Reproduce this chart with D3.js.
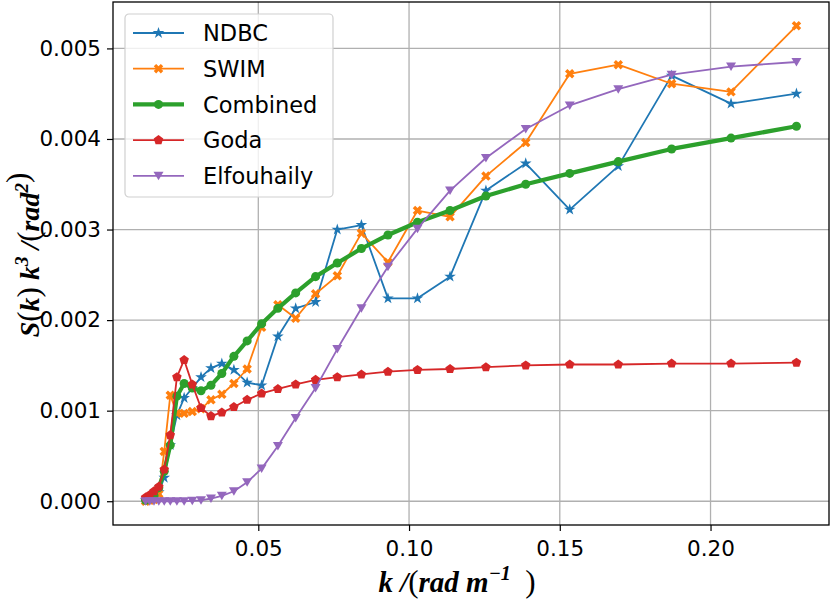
<!DOCTYPE html>
<html>
<head>
<meta charset="utf-8">
<script src="https://cdn.jsdelivr.net/npm/d3@7"></script>
<style>
  body { margin: 0; background: #fff; }
  svg { display: block; }
</style>
</head>
<body>
<svg id="chart" width="832" height="605"></svg>
<script>
// --- DATA ---
const kValues = [0.0126, 0.0140, 0.0154, 0.0170, 0.0188, 0.0208, 0.0230, 0.0254, 0.0281, 0.0310,
  0.0343, 0.0379, 0.0419, 0.0463, 0.0511, 0.0565, 0.0624, 0.0690, 0.0762, 0.0842,
  0.0930, 0.1028, 0.1136, 0.1255, 0.1387, 0.1533, 0.1694, 0.1871, 0.2068, 0.2285];

const ndbc = [0.00001, 0.00002, 0.00004, 0.00010, 0.00026, 0.00062, 0.00095, 0.00114, 0.00125, 0.00137,
  0.00147, 0.00152, 0.00145, 0.00131, 0.00128, 0.00182, 0.00213, 0.00220, 0.00300, 0.00305,
  0.00224, 0.00224, 0.00248, 0.00343, 0.00373, 0.00322, 0.00370, 0.00470, 0.00439, 0.00450];

const swim = [0.00000, 0.00001, 0.00002, 0.00008, 0.00055, 0.00117, 0.00097, 0.00097, 0.00099, 0.00102,
  0.00112, 0.00118, 0.00130, 0.00146, 0.00192, 0.00217, 0.00202, 0.00229, 0.00249, 0.00296,
  0.00264, 0.00321, 0.00314, 0.00359, 0.00396, 0.00472, 0.00482, 0.00461, 0.00452, 0.00525];

const combined = [0.00001, 0.00003, 0.00006, 0.00015, 0.00033, 0.00062, 0.00116, 0.00130, 0.00125, 0.00122,
  0.00128, 0.00141, 0.00160, 0.00177, 0.00196, 0.00213, 0.00230, 0.00248, 0.00263, 0.00279,
  0.00294, 0.00308, 0.00321, 0.00337, 0.00350, 0.00362, 0.00375, 0.00389, 0.00401, 0.00414];

const goda = [0.00004, 0.00007, 0.00011, 0.00016, 0.00035, 0.00073, 0.00137, 0.00156, 0.00129, 0.00103,
  0.00094, 0.00098, 0.00104, 0.00112, 0.00119, 0.00124, 0.00129, 0.00134, 0.00137, 0.00140,
  0.00143, 0.00145, 0.00146, 0.00148, 0.00150, 0.00151, 0.00151, 0.00152, 0.00152, 0.00153];

const elfouhaily = [0.00000, 0.00000, 0.00000, 0.00000, 0.00000, 0.00000, 0.00000, 0.00000, 0.000005, 0.00001,
  0.00003, 0.00006, 0.00011, 0.00021, 0.00036, 0.00061, 0.00092, 0.00125, 0.00168, 0.00213,
  0.00259, 0.00301, 0.00343, 0.00379, 0.00411, 0.00437, 0.00455, 0.00471, 0.00480, 0.00485];

const seriesNames = ["NDBC", "SWIM", "Combined", "Goda", "Elfouhaily"];
const xTicks = [0.05, 0.10, 0.15, 0.20];
const yTicks = [0.000, 0.001, 0.002, 0.003, 0.004, 0.005];

// --- MARKER SHAPES ---
function polyPath(pts) {
  return "M" + pts.map(p => p[0].toFixed(2) + "," + p[1].toFixed(2)).join("L") + "Z";
}
function xMarker(r) {
  const w = r * 0.34;
  const plus = [[-w,-r],[w,-r],[w,-w],[r,-w],[r,w],[w,w],[w,r],[-w,r],[-w,w],[-r,w],[-r,-w],[-w,-w]];
  const c = Math.SQRT1_2;
  return polyPath(plus.map(([x, y]) => [(x - y) * c, (x + y) * c]));
}
function pentagon(r) {
  const pts = d3.range(5).map(i => {
    const a = -Math.PI / 2 + i * 2 * Math.PI / 5;
    return [r * Math.cos(a), r * Math.sin(a)];
  });
  return polyPath(pts);
}
function triDown(r) {
  return polyPath([[-r, -r * 0.8], [r, -r * 0.8], [0, r * 0.9]]);
}

const series = [
  { name: seriesNames[0], values: ndbc, color: "#1f77b4", width: 1.8, marker: d3.symbol(d3.symbolStar, 42)() },
  { name: seriesNames[1], values: swim, color: "#ff7f0e", width: 1.8, marker: xMarker(5) },
  { name: seriesNames[2], values: combined, color: "#2ca02c", width: 4.2, marker: d3.symbol(d3.symbolCircle, 64)() },
  { name: seriesNames[3], values: goda, color: "#d62728", width: 1.8, marker: pentagon(5) },
  { name: seriesNames[4], values: elfouhaily, color: "#9467bd", width: 1.8, marker: triDown(5) }
];

// --- LAYOUT ---
const svg = d3.select("#chart");
const plot = { left: 113, right: 829, top: 2, bottom: 525 };

const kMin = d3.min(kValues), kMax = d3.max(kValues);
const kPad = (kMax - kMin) * 0.05;
const x = d3.scaleLinear().domain([kMin - kPad, kMax + kPad]).range([plot.left, plot.right]);

const sMin = 0, sMax = d3.max(series, s => d3.max(s.values));
const sPad = (sMax - sMin) * 0.05;
const y = d3.scaleLinear().domain([sMin - sPad, sMax + sPad]).range([plot.bottom, plot.top]);

// --- GRID ---
const grid = svg.append("g").attr("stroke", "#b0b0b0").attr("stroke-width", 1.3);
grid.selectAll("line.gx").data(xTicks).enter().append("line")
  .attr("x1", d => x(d)).attr("x2", d => x(d))
  .attr("y1", plot.top).attr("y2", plot.bottom);
grid.selectAll("line.gy").data(yTicks).enter().append("line")
  .attr("x1", plot.left).attr("x2", plot.right)
  .attr("y1", d => y(d)).attr("y2", d => y(d));

// --- SERIES ---
svg.append("clipPath").attr("id", "clip").append("rect")
  .attr("x", plot.left).attr("y", plot.top)
  .attr("width", plot.right - plot.left).attr("height", plot.bottom - plot.top);

const line = d3.line().x(d => x(d[0])).y(d => y(d[1]));

const marks = svg.append("g").attr("clip-path", "url(#clip)");
series.forEach(s => {
  const pts = kValues.map((k, i) => [k, s.values[i]]);
  const g = marks.append("g");
  g.append("path")
    .datum(pts)
    .attr("d", line)
    .attr("fill", "none")
    .attr("stroke", s.color)
    .attr("stroke-width", s.width)
    .attr("stroke-linejoin", "round");
  g.selectAll("path.m").data(pts).enter().append("path")
    .attr("class", "m")
    .attr("d", s.marker)
    .attr("transform", d => `translate(${x(d[0])},${y(d[1])})`)
    .attr("fill", s.color);
});

// --- AXES ---
const xAxis = svg.append("g")
  .attr("transform", `translate(0,${plot.bottom})`)
  .call(d3.axisBottom(x).tickValues(xTicks).tickFormat(d3.format(".2f")).tickSizeInner(6).tickSizeOuter(0).tickPadding(6));
const yAxis = svg.append("g")
  .attr("transform", `translate(${plot.left},0)`)
  .call(d3.axisLeft(y).tickValues(yTicks).tickFormat(d3.format(".3f")).tickSizeInner(6).tickSizeOuter(0).tickPadding(6));

[xAxis, yAxis].forEach(a => {
  a.select(".domain").remove();
  a.selectAll(".tick line").attr("stroke", "#000").attr("stroke-width", 1.2);
  a.selectAll(".tick text")
    .attr("font-family", "DejaVu Sans")
    .attr("font-size", 21.5)
    .attr("fill", "#000");
});
xAxis.selectAll(".tick text").attr("dy", "0.9em");

svg.append("rect")
  .attr("x", plot.left).attr("y", plot.top)
  .attr("width", plot.right - plot.left).attr("height", plot.bottom - plot.top)
  .attr("fill", "none").attr("stroke", "#000").attr("stroke-width", 1.3);

// --- AXIS LABELS ---
// big thin parentheses, like the \left( \right) of the original math text
function paren(sel, ch) {
  sel.append("tspan").attr("font-size", 31).attr("font-weight", "normal").attr("font-style", "normal").text(ch);
}

const xLabel = svg.append("text")
  .attr("x", 457).attr("y", 592)
  .attr("text-anchor", "middle")
  .attr("font-family", "Liberation Serif")
  .attr("font-weight", "bold")
  .attr("font-style", "italic")
  .attr("font-size", 29);
xLabel.append("tspan").text("k /");
paren(xLabel, "(");
xLabel.append("tspan").text("rad m");
xLabel.append("tspan").attr("dy", -12).attr("font-size", 20).text("\u22121");
xLabel.append("tspan").attr("dy", 12).text("\u2002");
paren(xLabel, ")");

const yLabel = svg.append("text")
  .attr("transform", "translate(39,255) rotate(-90)")
  .attr("text-anchor", "middle")
  .attr("font-family", "Liberation Serif")
  .attr("font-weight", "bold")
  .attr("font-style", "italic")
  .attr("font-size", 28);
yLabel.append("tspan").text("S");
paren(yLabel, "(");
yLabel.append("tspan").text("k");
paren(yLabel, ")");
yLabel.append("tspan").text(" k");
yLabel.append("tspan").attr("dy", -11).attr("font-size", 19).text("3");
yLabel.append("tspan").attr("dy", 11).text(" /");
paren(yLabel, "(");
yLabel.append("tspan").text("rad");
yLabel.append("tspan").attr("dy", -11).attr("font-size", 19).text("2");
yLabel.append("tspan").attr("dy", 11).text("");
paren(yLabel, ")");

// --- LEGEND ---
const legend = svg.append("g").attr("transform", "translate(125,14)");
legend.append("rect")
  .attr("width", 208).attr("height", 183)
  .attr("rx", 4).attr("ry", 4)
  .attr("fill", "#fff").attr("fill-opacity", 0.8)
  .attr("stroke", "#d0d0d0").attr("stroke-width", 1.2);

const item = legend.selectAll("g.item").data(series).enter().append("g")
  .attr("class", "item")
  .attr("transform", (d, i) => `translate(0,${19 + i * 35.7})`);
item.append("line")
  .attr("x1", 8).attr("x2", 59)
  .attr("stroke", d => d.color)
  .attr("stroke-width", d => d.width);
item.append("path")
  .attr("d", d => d.marker)
  .attr("transform", "translate(33.5,0)")
  .attr("fill", d => d.color);
item.append("text")
  .attr("x", 78).attr("dy", "0.36em")
  .attr("font-family", "DejaVu Sans")
  .attr("font-size", 22.5)
  .text(d => d.name);
</script>
</body>
</html>
